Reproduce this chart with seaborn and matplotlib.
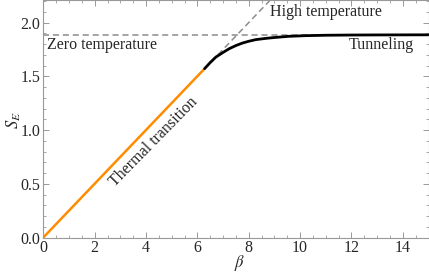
import matplotlib
matplotlib.use("Agg")
from matplotlib import pyplot as plt
from matplotlib.ticker import MultipleLocator, FormatStrFormatter
import seaborn as sns

# thermal (high temperature) branch, S = beta / 4
beta_thermal = [0.0, 6.28]
s_thermal = [0.0, 1.571]

# tunneling branch
beta_tunnel = [6.28, 6.5, 6.72, 7.0, 7.24, 7.5, 7.75, 8.0, 8.27, 8.6, 8.91, 9.25, 9.56, 10.2, 11.0, 12.0, 13.0, 15.0]
s_tunnel = [1.571, 1.628, 1.679, 1.722, 1.757, 1.786, 1.809, 1.826, 1.841, 1.851, 1.859, 1.866, 1.872, 1.878, 1.882, 1.884, 1.885, 1.886]

# asymptotes
beta_high = [6.0, 8.84]
s_high = [1.5, 2.21]
beta_zero = [0.0, 15.0]
s_zero = [1.886, 1.886]

sns.set_style("ticks")
plt.rcParams['font.family'] = 'serif'
plt.rcParams['font.serif'] = ['Liberation Serif', 'DejaVu Serif']
plt.rcParams['mathtext.fontset'] = 'stix'

fig = plt.figure(figsize=(4.29, 2.79), dpi=100)
ax = fig.add_axes([43.3 / 429, 41.5 / 279, 385.2 / 429, 237.5 / 279])

dash = (4, 2.5)
sns.lineplot(x=beta_zero, y=s_zero, ax=ax, color='#8c8c8c', lw=1.1, linestyle=(0, dash))
sns.lineplot(x=beta_high, y=s_high, ax=ax, color='#8c8c8c', lw=1.1, linestyle=(0, dash))
sns.lineplot(x=beta_thermal, y=s_thermal, ax=ax, color='#ff8c00', lw=1.8)
sns.lineplot(x=beta_tunnel, y=s_tunnel, ax=ax, color='black', lw=2.0)

ax.set_xlim(0, 15)
ax.set_ylim(0, 2.21)
ax.xaxis.set_major_locator(MultipleLocator(2))
ax.xaxis.set_minor_locator(MultipleLocator(0.5))
ax.yaxis.set_major_locator(MultipleLocator(0.5))
ax.yaxis.set_minor_locator(MultipleLocator(0.1))
ax.yaxis.set_major_formatter(FormatStrFormatter('%.1f'))

for s in ax.spines.values():
    s.set_visible(True)
    s.set_color('#999999')
    s.set_linewidth(0.8)
ax.tick_params(which='both', direction='in', top=True, right=True, color='#999999',
               labelsize=11.5, pad=2)
ax.tick_params(which='major', length=4.5, width=0.7)
ax.tick_params(which='minor', length=2.5, width=0.6)
for lab in ax.get_xticklabels() + ax.get_yticklabels():
    lab.set_family('Liberation Serif')

ax.set_xlabel(r'$\beta$', fontsize=12, va='center')
ax.set_ylabel(r'$S_E$', fontsize=12, rotation=90, va='center', ha='center')
ax.xaxis.set_label_coords((240 - 43.3) / 385.2, -(263 - 237.5) / 237.5)
ax.yaxis.set_label_coords(-(43.3 - 14) / 385.2, (237.5 - 120) / 237.5)

tf = dict(fontsize=11.5, family='Liberation Serif', va='center')
ax.text(0.13, 1.79, 'Zero temperature', ha='left', **tf)
ax.text(8.83, 2.10, 'High temperature', ha='left', **tf)
ax.text(11.88, 1.79, 'Tunneling', ha='left', **tf)
ax.text(4.3, 0.89, 'Thermal transition', ha='center', rotation=45.5,
        rotation_mode='anchor', **tf)

fig.savefig('out.png', dpi=100)
